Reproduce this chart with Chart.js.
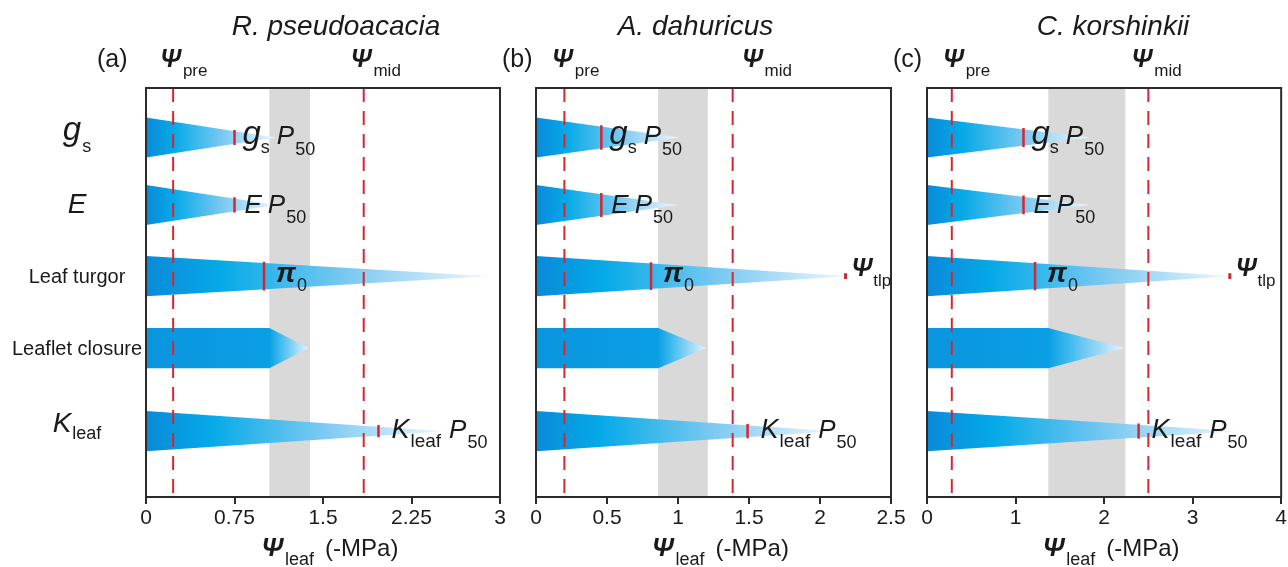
<!DOCTYPE html>
<html>
<head>
<meta charset="utf-8">
<script src="https://cdn.jsdelivr.net/npm/chart.js@4.4.1/dist/chart.umd.min.js"></script>
<style>
  html, body { margin: 0; padding: 0; background: #fff; width: 1288px; height: 567px; overflow: hidden; }
  .panel { position: absolute; top: 0; height: 567px; }
  canvas { display: block; }
</style>
</head>
<body>
<div class="panel" id="p0"><canvas id="c0"></canvas></div>
<div class="panel" id="p1"><canvas id="c1"></canvas></div>
<div class="panel" id="p2"><canvas id="c2"></canvas></div>
<script>
// rows, top to bottom (y axis runs 0..10)
const rowNames = ['gs', 'E', 'Leaf turgor', 'Leaflet closure', 'Kleaf'];
const rowY = [8.79, 7.14, 5.40, 3.64, 1.61];

// one entry per panel: (a) R. pseudoacacia, (b) A. dahuricus, (c) C. korshinkii
const species = ['R. pseudoacacia', 'A. dahuricus', 'C. korshinkii'];
const panelTags = ['(a)', '(b)', '(c)'];
const xMax = [3, 2.5, 4];
const xTicks = [[0, 0.75, 1.5, 2.25, 3], [0, 0.5, 1, 1.5, 2, 2.5], [0, 1, 2, 3, 4]];
const psiPre = [0.23, 0.2, 0.28];
const psiMid = [1.845, 1.385, 2.5];
const bandFrom = [1.045, 0.86, 1.37];
const bandTo = [1.39, 1.21, 2.24];
const gsP50 = [0.75, 0.46, 1.09];
const gsEnd = [1.10, 1.01, 1.84];
const eP50 = [0.75, 0.46, 1.09];
const eEnd = [1.10, 1.00, 1.84];
const pi0 = [1.0, 0.81, 1.22];
const turgorEnd = [2.9, 2.2, 3.43];
const psiTlp = [null, 2.18, 3.42];
const closureStart = [1.045, 0.86, 1.37];
const closureEnd = [1.38, 1.20, 2.23];
const kP50 = [1.97, 1.49, 2.39];
const kEnd = [2.53, 2.10, 3.50];

// layout (pixels)
const panelBox = [
  { left: 0,   padL: 146, plotW: 354, padR: 25, tagDx: -49, titleDx: 13,  preAt: 0.12,  midAt: 1.735 },
  { left: 486, padL: 50,  plotW: 355, padR: 25, tagDx: -34, titleDx: -18, preAt: 0.113, midAt: 1.45 },
  { left: 877, padL: 50,  plotW: 355, padR: 7,  tagDx: -34, titleDx: 9,   preAt: 0.18,  midAt: 2.31 }
];
const HALF = 0.49;          // half height of a wedge, y units
const RED = '#d8262d';
const INK = '#1a1a1a';
const FF = '"Liberation Sans", Arial, Helvetica, sans-serif';
const fnt = (px, st) => (st ? st + ' ' : '') + px + 'px ' + FF;

const wedgeStops = [[0, '#0a8ad9'], [0.22, '#05aae8'], [0.6, '#7ecaf2'], [1, '#eef7fd']];

function gradFill(end, stops) {
  return (c) => {
    const ch = c.chart;
    if (!ch.chartArea) return '#0a9be2';
    const xs = ch.scales.x;
    const g = ch.ctx.createLinearGradient(xs.getPixelForValue(0), 0, xs.getPixelForValue(end), 0);
    stops.forEach(s => g.addColorStop(s[0], s[1]));
    return g;
  };
}

function poly(pts, bg, order) {
  return { data: pts, fill: 'shape', backgroundColor: bg, borderColor: 'rgba(0,0,0,0)',
           borderWidth: 0, pointRadius: 0, tension: 0, order: order };
}
function vline(xv, y1, y2, color, w, dash, order) {
  return { data: [{ x: xv, y: y1 }, { x: xv, y: y2 }], fill: false, borderColor: color,
           borderWidth: w, borderDash: dash, borderCapStyle: 'butt', pointRadius: 0, order: order };
}
function wedge(y0, end) {
  return poly([{ x: 0, y: y0 + HALF }, { x: end, y: y0 }, { x: 0, y: y0 - HALF }], gradFill(end, wedgeStops), 20);
}
function mark(y0, p, end) {
  const hh = Math.max(HALF * (1 - p / end) + 0.03, 0.15);
  return vline(p, y0 + hh, y0 - hh, RED, 2.5, [], 2);
}

function panelDatasets(i) {
  const ds = [];
  ds.push(poly([{ x: bandFrom[i], y: 0 }, { x: bandTo[i], y: 0 }, { x: bandTo[i], y: 10 }, { x: bandFrom[i], y: 10 }], '#d9d9d9', 30));
  ds.push(wedge(rowY[0], gsEnd[i]));
  ds.push(wedge(rowY[1], eEnd[i]));
  ds.push(wedge(rowY[2], turgorEnd[i]));
  ds.push(wedge(rowY[4], kEnd[i]));
  const cs = closureStart[i], ce = closureEnd[i], y3 = rowY[3];
  const f = cs / ce;
  ds.push(poly([{ x: 0, y: y3 + HALF }, { x: cs, y: y3 + HALF }, { x: ce, y: y3 }, { x: cs, y: y3 - HALF }, { x: 0, y: y3 - HALF }],
    gradFill(ce, [[0, '#0a95df'], [f, '#0a9fe4'], [f + (1 - f) * 0.3, '#45bcef'], [1, '#e6f3fc']]), 20));
  ds.push(vline(psiPre[i], 10, 0, RED, 2, [14, 9], 5));
  ds.push(vline(psiMid[i], 10, 0, RED, 2, [14, 9], 5));
  ds.push(mark(rowY[0], gsP50[i], gsEnd[i]));
  ds.push(mark(rowY[1], eP50[i], eEnd[i]));
  ds.push(mark(rowY[2], pi0[i], turgorEnd[i]));
  ds.push(mark(rowY[4], kP50[i], kEnd[i]));
  if (psiTlp[i] !== null) ds.push(vline(psiTlp[i], rowY[2] + 0.07, rowY[2] - 0.07, RED, 3, [], 1));
  return ds;
}

// parts: [text, font, dy, gapBefore]
function rich(ctx, x, y, parts, align) {
  let w = 0;
  parts.forEach(p => { ctx.font = p[1]; w += (p[3] || 0) + ctx.measureText(p[0]).width; });
  let cx = align === 'center' ? x - w / 2 : x;
  parts.forEach(p => {
    ctx.font = p[1];
    cx += p[3] || 0;
    ctx.fillText(p[0], cx, y + (p[2] || 0));
    cx += ctx.measureText(p[0]).width;
  });
}

const decor = {
  id: 'decor',
  afterDraw(chart, args, opts) {
    const i = opts.panel;
    const { ctx, chartArea: a } = chart;
    const xs = chart.scales.x, ys = chart.scales.y;
    const px = v => xs.getPixelForValue(v);
    const py = v => ys.getPixelForValue(v);
    ctx.save();
    ctx.strokeStyle = '#2b2b2b';
    ctx.lineWidth = 2;
    ctx.strokeRect(a.left, a.top, a.right - a.left, a.bottom - a.top);

    ctx.fillStyle = INK;
    ctx.textAlign = 'left';
    ctx.textBaseline = 'alphabetic';
    const box = panelBox[i];
    // title and headers
    rich(ctx, (a.left + a.right) / 2 + box.titleDx, 35, [[species[i], fnt(28, 'italic')]], 'center');
    rich(ctx, a.left + box.tagDx, 67, [[panelTags[i], fnt(25)]]);
    rich(ctx, px(box.preAt), 67, [['\u03A8', fnt(25, 'italic bold')], ['pre', fnt(17), 9, 2]]);
    rich(ctx, px(box.midAt), 67, [['\u03A8', fnt(25, 'italic bold')], ['mid', fnt(17), 9, 2]]);
    // x axis title
    rich(ctx, (a.left + a.right) / 2 + 7, 556,
      [['\u03A8', fnt(26, 'italic bold')], ['leaf', fnt(18), 9, 2], ['(-MPa)', fnt(24), 0, 11]], 'center');

    // annotations beside the red marks
    const y0 = py(rowY[0]), y1 = py(rowY[1]), y2 = py(rowY[2]), y4 = py(rowY[4]);
    rich(ctx, px(gsP50[i]) + 8, y0 + 7,
      [['g', fnt(33, 'italic')], ['s', fnt(18), 9, 0], ['P', fnt(26, 'italic'), 0, 7], ['50', fnt(18), 11, 1]]);
    rich(ctx, px(eP50[i]) + 10, y1 + 8,
      [['E', fnt(26, 'italic')], ['P', fnt(26, 'italic'), 0, 6], ['50', fnt(18), 10, 1]]);
    rich(ctx, px(pi0[i]) + 12, y2 + 6,
      [['\u03C0', fnt(28, 'italic bold')], ['0', fnt(18), 9, 1]]);
    if (psiTlp[i] !== null) {
      rich(ctx, px(psiTlp[i]) + 6, y2 - 0,
        [['\u03A8', fnt(25, 'italic bold')], ['tlp', fnt(17), 10, 1]]);
    }
    rich(ctx, px(kP50[i]) + 13, y4 + 7,
      [['K', fnt(27, 'italic')], ['leaf', fnt(19), 9, 1], ['P', fnt(26, 'italic'), 0, 8], ['50', fnt(18), 10, 1]]);

    // row names on the left of panel (a)
    if (i === 0) {
      const cx = 77;
      rich(ctx, cx, y0 + 3, [['g', fnt(33, 'italic')], ['s', fnt(18), 12, 1]], 'center');
      rich(ctx, cx, y1 + 8, [['E', fnt(28, 'italic')]], 'center');
      rich(ctx, cx, y2 + 7, [[rowNames[2], fnt(20)]], 'center');
      rich(ctx, cx, py(rowY[3]) + 7, [[rowNames[3], fnt(20)]], 'center');
      rich(ctx, cx, y4 + 1, [['K', fnt(28, 'italic')], ['leaf', fnt(18), 7, 1]], 'center');
    }
    ctx.restore();
  }
};

panelBox.forEach((box, i) => {
  const div = document.getElementById('p' + i);
  const width = box.padL + box.plotW + box.padR;
  div.style.left = box.left + 'px';
  div.style.width = width + 'px';
  const cv = document.getElementById('c' + i);
  cv.width = width;
  cv.height = 567;
  new Chart(cv.getContext('2d'), {
    type: 'line',
    data: { datasets: panelDatasets(i) },
    options: {
      responsive: false,
      animation: false,
      events: [],
      layout: { padding: { left: box.padL, right: box.padR, top: 88, bottom: 0 } },
      plugins: { legend: { display: false }, tooltip: { enabled: false }, decor: { panel: i } },
      scales: {
        x: {
          type: 'linear', min: 0, max: xMax[i],
          afterBuildTicks: s => { s.ticks = xTicks[i].map(v => ({ value: v })); },
          afterFit: s => { s.height = 70; },
          ticks: { autoSkip: false, maxRotation: 0, padding: 2, color: INK, font: { family: FF, size: 21 },
                   callback: v => String(v) },
          grid: { drawOnChartArea: false, drawTicks: true, tickLength: 7, color: '#2b2b2b', lineWidth: 2 },
          border: { display: true, color: '#2b2b2b', width: 2 },
          title: { display: false }
        },
        y: { type: 'linear', min: 0, max: 10, display: false }
      }
    },
    plugins: [decor]
  });
});
</script>
</body>
</html>
